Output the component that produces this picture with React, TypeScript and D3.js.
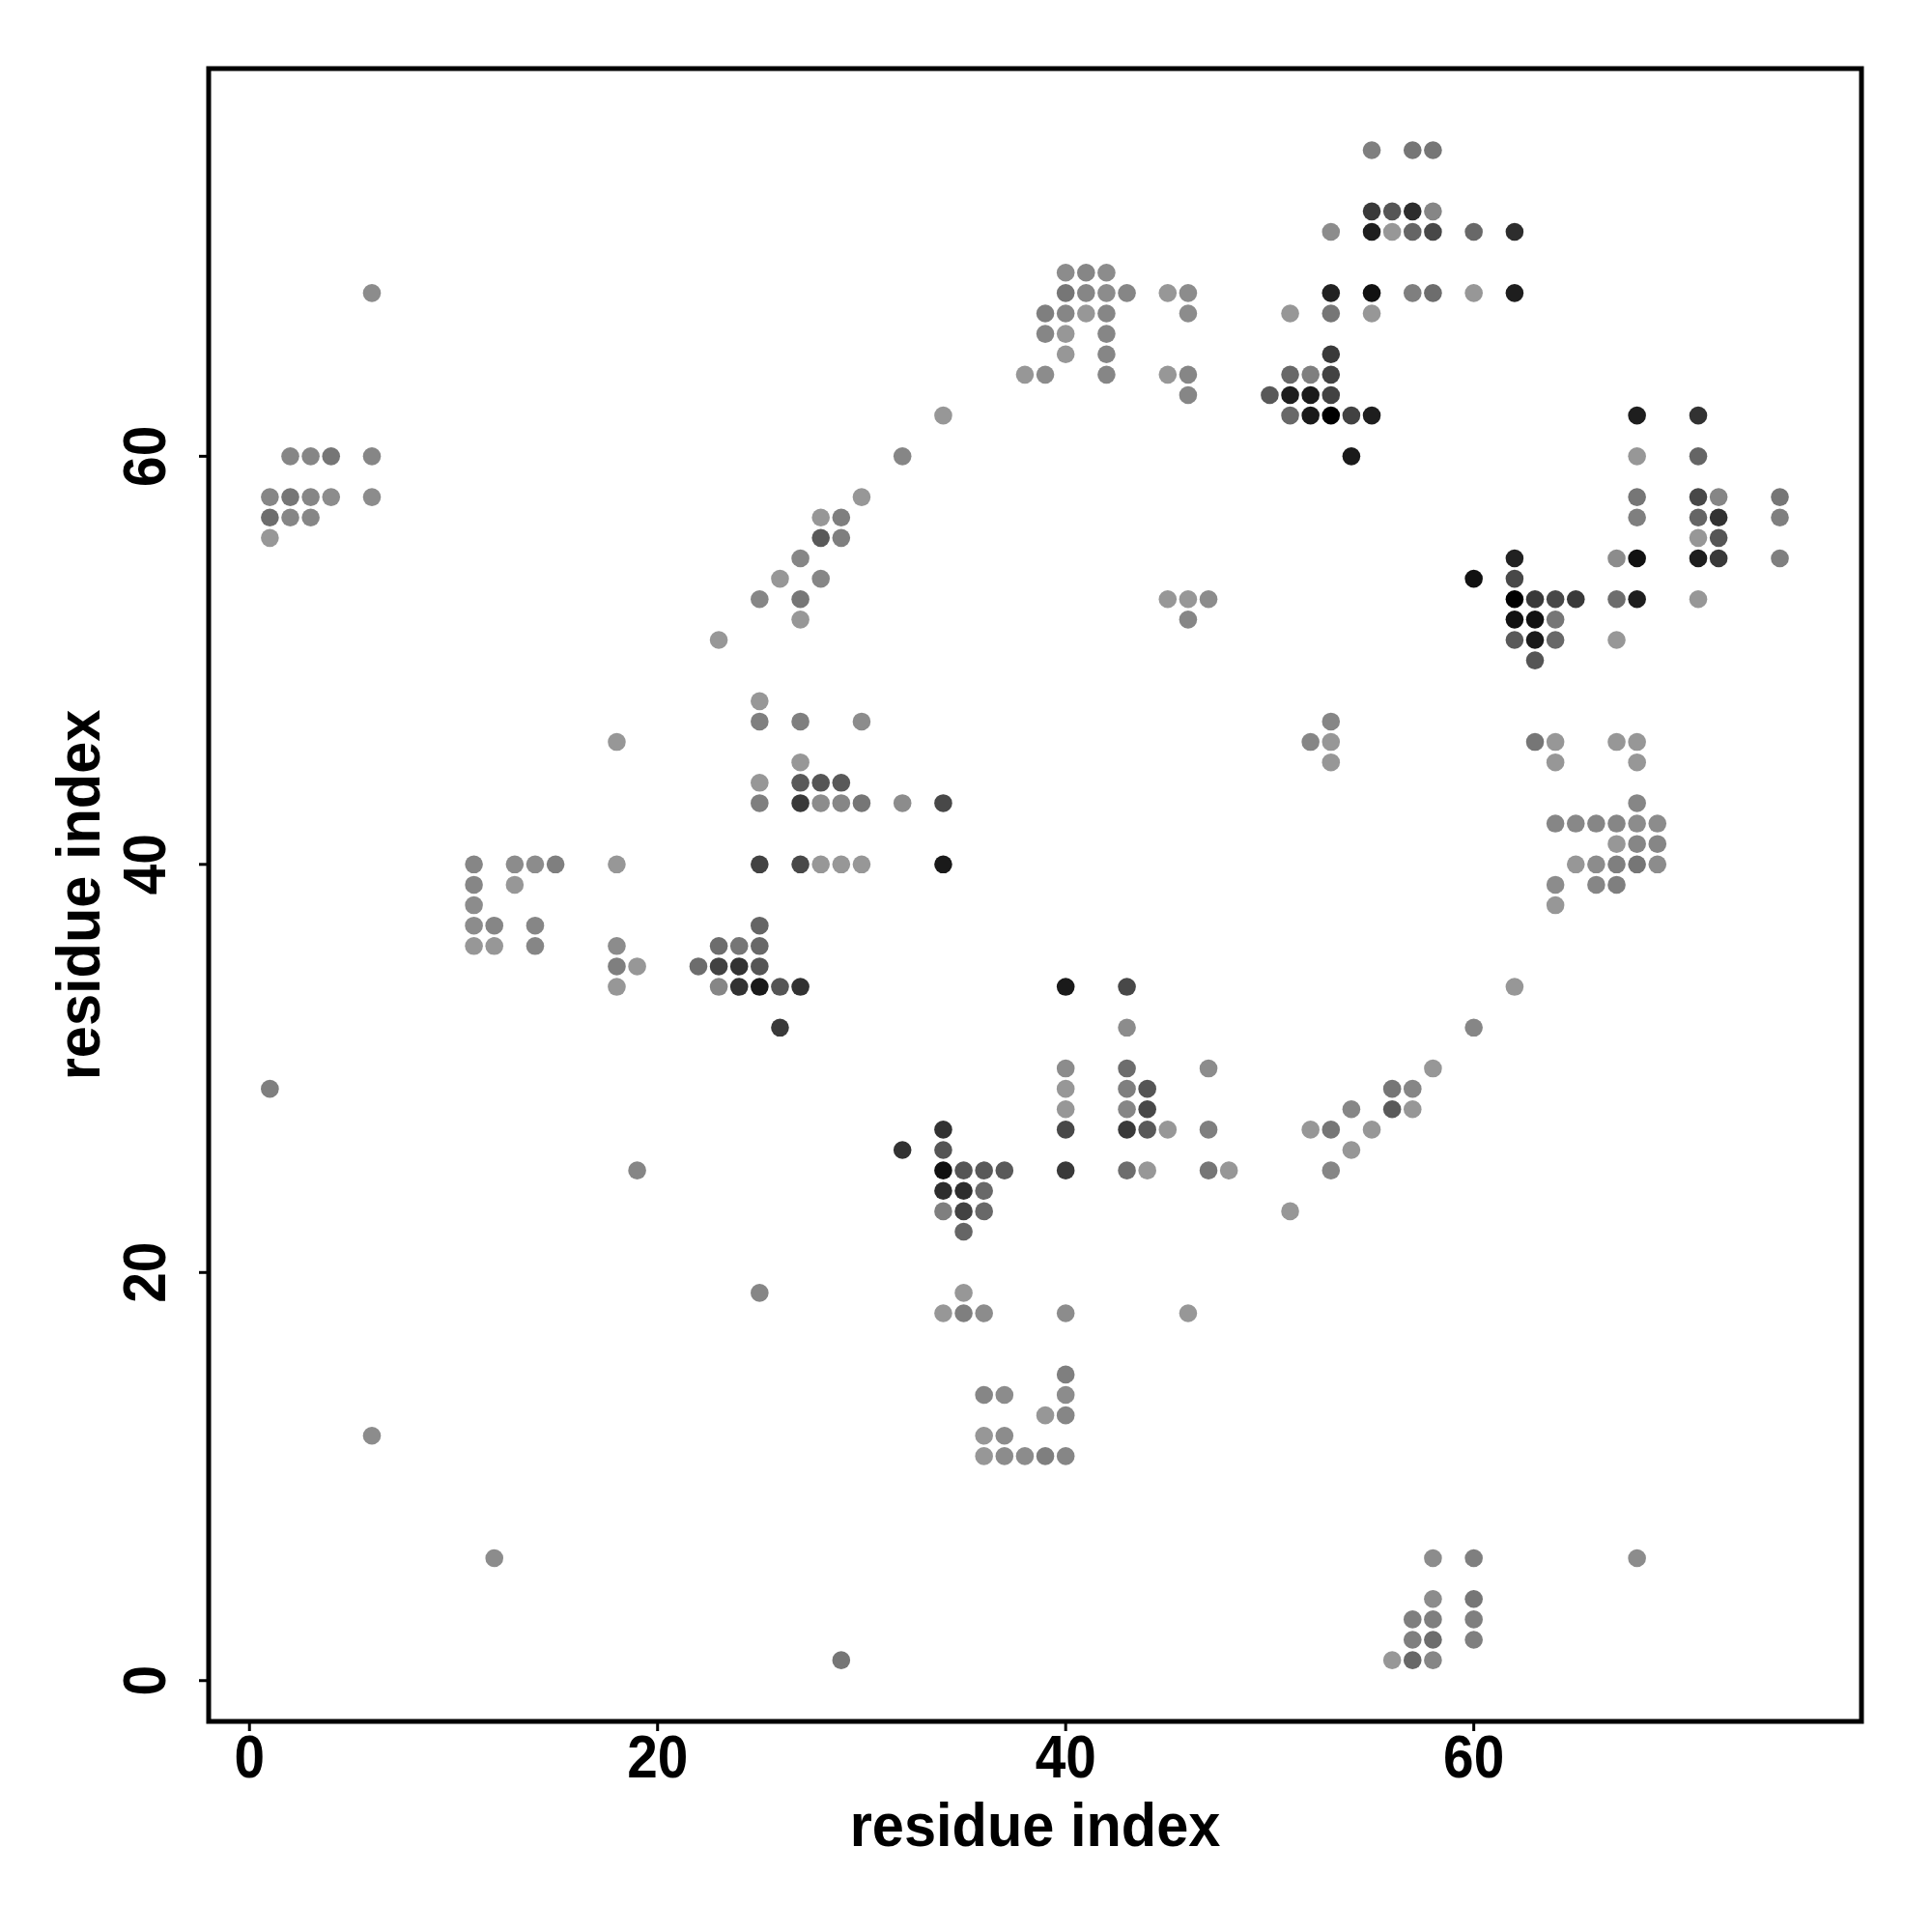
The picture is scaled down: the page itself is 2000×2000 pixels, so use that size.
import React from "react";
import * as d3 from "d3";

// contact map: [residue i, residue j, contact score 0..1]
const contacts: [number, number, number][] = [
  [55, 75, 0.16], [57, 75, 0.22], [58, 75, 0.22],
  [55, 72, 0.62], [56, 72, 0.44], [57, 72, 0.7], [58, 72, 0.11],
  [53, 71, 0.07], [55, 71, 0.8], [56, 71, 0], [57, 71, 0.33], [58, 71, 0.52], [60, 71, 0.31], [62, 71, 0.7],
  [40, 69, 0.07], [41, 69, 0.11], [42, 69, 0.07],
  [6, 68, 0.07], [40, 68, 0.22], [41, 68, 0.11], [42, 68, 0.07], [43, 68, 0.11], [45, 68, 0], [46, 68, 0.07],
  [53, 68, 0.78], [55, 68, 0.89], [57, 68, 0.16], [58, 68, 0.28], [60, 68, 0], [62, 68, 0.8],
  [39, 67, 0.16], [40, 67, 0.11], [41, 67, 0], [42, 67, 0.11], [46, 67, 0.07], [51, 67, 0], [53, 67, 0.22], [55, 67, 0],
  [39, 66, 0.11], [40, 66, 0], [42, 66, 0.11],
  [40, 65, 0], [42, 65, 0.11], [53, 65, 0.62],
  [38, 64, 0], [39, 64, 0.07], [42, 64, 0.11], [45, 64, 0], [46, 64, 0.11], [51, 64, 0.31], [52, 64, 0.16], [53, 64, 0.56],
  [46, 63, 0.11], [50, 63, 0.41], [51, 63, 0.8], [52, 63, 0.83], [53, 63, 0.56],
  [34, 62, 0], [51, 62, 0.31], [52, 62, 0.83], [53, 62, 1.0], [54, 62, 0.56], [55, 62, 0.8], [68, 62, 0.8], [71, 62, 0.67],
  [2, 60, 0.11], [3, 60, 0.11], [4, 60, 0.22], [6, 60, 0.11], [32, 60, 0.11], [54, 60, 0.83], [68, 60, 0], [71, 60, 0.33],
  [1, 58, 0.11], [2, 58, 0.22], [3, 58, 0.11], [4, 58, 0.07], [6, 58, 0.07], [30, 58, 0], [68, 58, 0.22], [71, 58, 0.52], [72, 58, 0.11], [75, 58, 0.22],
  [1, 57, 0.28], [2, 57, 0.11], [3, 57, 0.11], [28, 57, 0], [29, 57, 0.16], [68, 57, 0.16], [71, 57, 0.33], [72, 57, 0.67], [75, 57, 0.16],
  [1, 56, 0], [28, 56, 0.41], [29, 56, 0.16], [71, 56, 0], [72, 56, 0.44],
  [27, 55, 0.11], [62, 55, 0.78], [67, 55, 0.07], [68, 55, 0.89], [71, 55, 0.8], [72, 55, 0.62], [75, 55, 0.16],
  [26, 54, 0], [28, 54, 0.11], [60, 54, 0.89], [62, 54, 0.52],
  [25, 53, 0.11], [27, 53, 0.22], [45, 53, 0], [46, 53, 0], [47, 53, 0.07], [62, 53, 1.0], [63, 53, 0.62], [64, 53, 0.52], [65, 53, 0.62], [67, 53, 0.28], [68, 53, 0.8], [71, 53, 0],
  [27, 52, 0], [46, 52, 0.11], [62, 52, 0.89], [63, 52, 0.89], [64, 52, 0.22],
  [23, 51, 0], [62, 51, 0.41], [63, 51, 0.83], [64, 51, 0.31], [67, 51, 0],
  [63, 50, 0.44],
  [25, 48, 0],
  [25, 47, 0.16], [27, 47, 0.16], [30, 47, 0.07], [53, 47, 0.11],
  [18, 46, 0], [52, 46, 0.11], [53, 46, 0], [63, 46, 0.22], [64, 46, 0], [67, 46, 0], [68, 46, 0],
  [27, 45, 0], [53, 45, 0], [64, 45, 0], [68, 45, 0],
  [25, 44, 0], [27, 44, 0.41], [28, 44, 0.44], [29, 44, 0.41],
  [25, 43, 0.16], [27, 43, 0.62], [28, 43, 0.07], [29, 43, 0.11], [30, 43, 0.22], [32, 43, 0.07], [34, 43, 0.52], [68, 43, 0.11],
  [64, 42, 0.11], [65, 42, 0.1], [66, 42, 0.11], [67, 42, 0.11], [68, 42, 0.07], [69, 42, 0.07],
  [67, 41, 0], [68, 41, 0.11], [69, 41, 0.11],
  [11, 40, 0.11], [13, 40, 0.07], [14, 40, 0.07], [15, 40, 0.16], [18, 40, 0], [25, 40, 0.56], [27, 40, 0.52], [28, 40, 0], [29, 40, 0], [30, 40, 0], [34, 40, 0.83],
  [65, 40, 0], [66, 40, 0.07], [67, 40, 0.16], [68, 40, 0.22], [69, 40, 0.07],
  [11, 39, 0.11], [13, 39, 0], [64, 39, 0.07], [66, 39, 0.11], [67, 39, 0.16],
  [11, 38, 0.07], [64, 38, 0],
  [11, 37, 0.07], [12, 37, 0.11], [14, 37, 0.11], [25, 37, 0.33],
  [11, 36, 0], [12, 36, 0], [14, 36, 0.11], [18, 36, 0.07], [23, 36, 0.28], [24, 36, 0.22], [25, 36, 0.31],
  [18, 35, 0.16], [19, 35, 0], [22, 35, 0.28], [23, 35, 0.56], [24, 35, 0.67], [25, 35, 0.44],
  [18, 34, 0], [23, 34, 0.11], [24, 34, 0.67], [25, 34, 0.83], [26, 34, 0.44], [27, 34, 0.67], [40, 34, 0.83], [43, 34, 0.52], [62, 34, 0],
  [26, 32, 0.62], [43, 32, 0.07], [60, 32, 0.11],
  [40, 30, 0.07], [43, 30, 0.28], [47, 30, 0.07], [58, 30, 0],
  [1, 29, 0.16], [40, 29, 0], [43, 29, 0.16], [44, 29, 0.44], [56, 29, 0.22], [57, 29, 0.11],
  [40, 28, 0], [43, 28, 0.11], [44, 28, 0.52], [54, 28, 0.11], [56, 28, 0.41], [57, 28, 0],
  [34, 27, 0.67], [40, 27, 0.52], [43, 27, 0.62], [44, 27, 0.41], [45, 27, 0], [47, 27, 0.16], [52, 27, 0], [53, 27, 0.22], [55, 27, 0],
  [32, 26, 0.67], [34, 26, 0.44], [54, 26, 0],
  [19, 25, 0.11], [34, 25, 0.89], [35, 25, 0.44], [36, 25, 0.41], [37, 25, 0.41], [40, 25, 0.62], [43, 25, 0.28], [44, 25, 0], [47, 25, 0.22], [48, 25, 0], [53, 25, 0.11],
  [34, 24, 0.7], [35, 24, 0.7], [36, 24, 0.31],
  [34, 23, 0.16], [35, 23, 0.56], [36, 23, 0.31], [51, 23, 0],
  [35, 22, 0.33],
  [25, 19, 0.11], [35, 19, 0],
  [34, 18, 0], [35, 18, 0.16], [36, 18, 0.07], [40, 18, 0.07], [46, 18, 0],
  [40, 15, 0.16],
  [36, 14, 0.11], [37, 14, 0.07], [40, 14, 0.07],
  [39, 13, 0], [40, 13, 0.11],
  [6, 12, 0.07], [36, 12, 0], [37, 12, 0.07],
  [36, 11, 0], [37, 11, 0.07], [38, 11, 0.07], [39, 11, 0.16], [40, 11, 0.11],
  [12, 6, 0.07], [58, 6, 0.07], [60, 6, 0.16], [68, 6, 0.07],
  [58, 4, 0.07], [60, 4, 0.22],
  [57, 3, 0.16], [58, 3, 0.16], [60, 3, 0.16],
  [57, 2, 0.16], [58, 2, 0.28], [60, 2, 0.16],
  [29, 1, 0.22], [56, 1, 0], [57, 1, 0.31], [58, 1, 0.11],
];

const xTicks = [0, 20, 40, 60];
const yTicks = [0, 20, 40, 60];
const axisDomain: [number, number] = [-2, 79];
const xTitle = "residue index";
const yTitle = "residue index";

export default function App() {
  const W = 2000, H = 2000;
  const left = 216, right = 1927, top = 71, bottom = 1782;
  const x = d3.scaleLinear().domain(axisDomain).range([left, right]);
  const y = d3.scaleLinear().domain(axisDomain).range([bottom, top]);
  const color = d3.scaleLinear<string>().domain([0, 1]).range(["#979797", "#000000"]);
  const font = "'Liberation Sans', Arial, Helvetica, sans-serif";
  const tickLen = 10;
  const tickFs = 63, tickSx = 0.9;
  const titleFs = 62, titleSx = 0.96;

  return (
    <svg width={W} height={H} style={{ position: "absolute", left: 0, top: 0, background: "#fff" }}>
      <rect x={0} y={0} width={W} height={H} fill="#fff" />
      {contacts.map(([i, j, s], k) => (
        <circle key={k} cx={x(i)} cy={y(j)} r={9.3} fill={color(s)} />
      ))}
      <rect x={left} y={top} width={right - left} height={bottom - top} fill="none" stroke="#000" strokeWidth={5} />
      {xTicks.map((t) => (
        <g key={"x" + t}>
          <line x1={x(t)} x2={x(t)} y1={bottom} y2={bottom + tickLen} stroke="#000" strokeWidth={3} />
          <text transform={`translate(${x(t)},1840) scale(${tickSx},1)`} textAnchor="middle" fontFamily={font} fontWeight="bold" fontSize={tickFs}>{t}</text>
        </g>
      ))}
      {yTicks.map((t) => (
        <g key={"y" + t}>
          <line x1={left} x2={left - tickLen} y1={y(t)} y2={y(t)} stroke="#000" strokeWidth={3} />
          <text transform={`translate(171,${y(t)}) rotate(-90) scale(${tickSx},1)`} textAnchor="middle" fontFamily={font} fontWeight="bold" fontSize={tickFs}>{t}</text>
        </g>
      ))}
      <text transform={`translate(${(left + right) / 2},1911) scale(${titleSx},1)`} textAnchor="middle" fontFamily={font} fontWeight="bold" fontSize={titleFs}>{xTitle}</text>
      <text transform={`translate(103,${(top + bottom) / 2}) rotate(-90) scale(${titleSx},1)`} textAnchor="middle" fontFamily={font} fontWeight="bold" fontSize={titleFs}>{yTitle}</text>
    </svg>
  );
}
